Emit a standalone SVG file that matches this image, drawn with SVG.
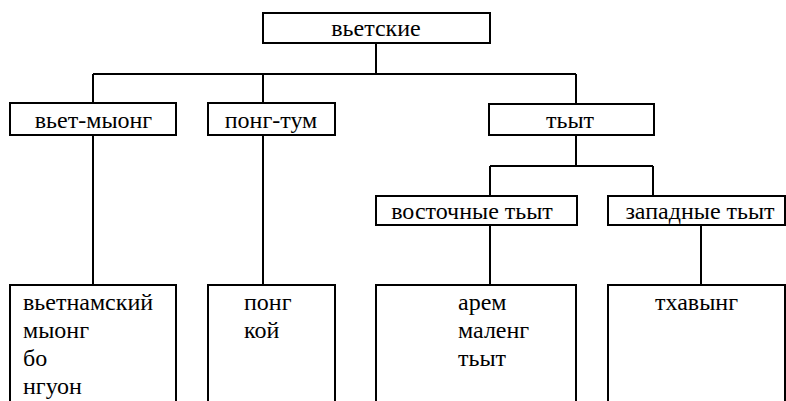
<svg xmlns="http://www.w3.org/2000/svg" width="786" height="401" viewBox="0 0 786 401">
<rect width="786" height="401" fill="#fff"/>
<g id="connectors" fill="none" stroke="#000" stroke-width="2">
<path d="M376 43V74M93 74H576M93 74V103M263 74V103M576 74V104"/>
<path d="M576 135V166M490 166H653M490 166V196M653 166V196"/>
<path d="M93 135V285M263 135V285M490 225V285M701 225V285"/>
</g>
<g id="n-vetskie"><rect x="263" y="13" width="227" height="30" fill="#fff" stroke="#000" stroke-width="2"/><text x="376" y="36" text-anchor="middle" font-family="'Liberation Serif', 'Times New Roman', serif" font-size="24">вьетские</text></g>
<g id="n-vet-myong"><rect x="10" y="103" width="166" height="32" fill="#fff" stroke="#000" stroke-width="2"/><text x="93.5" y="127.5" text-anchor="middle" font-family="'Liberation Serif', 'Times New Roman', serif" font-size="24">вьет-мыонг</text></g>
<g id="n-pong-tum"><rect x="208" y="103" width="127" height="32" fill="#fff" stroke="#000" stroke-width="2"/><text x="271" y="127.5" text-anchor="middle" font-family="'Liberation Serif', 'Times New Roman', serif" font-size="24">понг-тум</text></g>
<g id="n-tyt"><rect x="489" y="104" width="165" height="31" fill="#fff" stroke="#000" stroke-width="2"/><text x="570" y="127.5" text-anchor="middle" font-family="'Liberation Serif', 'Times New Roman', serif" font-size="24">тьыт</text></g>
<g id="n-east"><rect x="376" y="196" width="201" height="29" fill="#fff" stroke="#000" stroke-width="2"/><text x="472" y="219" text-anchor="middle" font-family="'Liberation Serif', 'Times New Roman', serif" font-size="24">восточные тьыт</text></g>
<g id="n-west"><rect x="608" y="196" width="177" height="29" fill="#fff" stroke="#000" stroke-width="2"/><text x="700" y="219" text-anchor="middle" font-family="'Liberation Serif', 'Times New Roman', serif" font-size="24">западные тьыт</text></g>
<g id="n-list1"><path d="M10 401V285H176V401" fill="none" stroke="#000" stroke-width="2"/><text x="23" y="310" font-family="'Liberation Serif', 'Times New Roman', serif" font-size="24">вьетнамский</text><text x="23" y="338" font-family="'Liberation Serif', 'Times New Roman', serif" font-size="24">мыонг</text><text x="23" y="366" font-family="'Liberation Serif', 'Times New Roman', serif" font-size="24">бо</text><text x="23" y="394" font-family="'Liberation Serif', 'Times New Roman', serif" font-size="24">нгуон</text></g>
<g id="n-list2"><path d="M208 401V285H335V401" fill="none" stroke="#000" stroke-width="2"/><text x="244" y="310" font-family="'Liberation Serif', 'Times New Roman', serif" font-size="24">понг</text><text x="244" y="338" font-family="'Liberation Serif', 'Times New Roman', serif" font-size="24">кой</text></g>
<g id="n-list3"><path d="M376 401V285H576V401" fill="none" stroke="#000" stroke-width="2"/><text x="458" y="310" font-family="'Liberation Serif', 'Times New Roman', serif" font-size="24">арем</text><text x="458" y="338" font-family="'Liberation Serif', 'Times New Roman', serif" font-size="24">маленг</text><text x="458" y="366" font-family="'Liberation Serif', 'Times New Roman', serif" font-size="24">тьыт</text></g>
<g id="n-list4"><path d="M608 401V285H785V401" fill="none" stroke="#000" stroke-width="2"/><text x="655" y="310" font-family="'Liberation Serif', 'Times New Roman', serif" font-size="24">тхавынг</text></g>
</svg>
